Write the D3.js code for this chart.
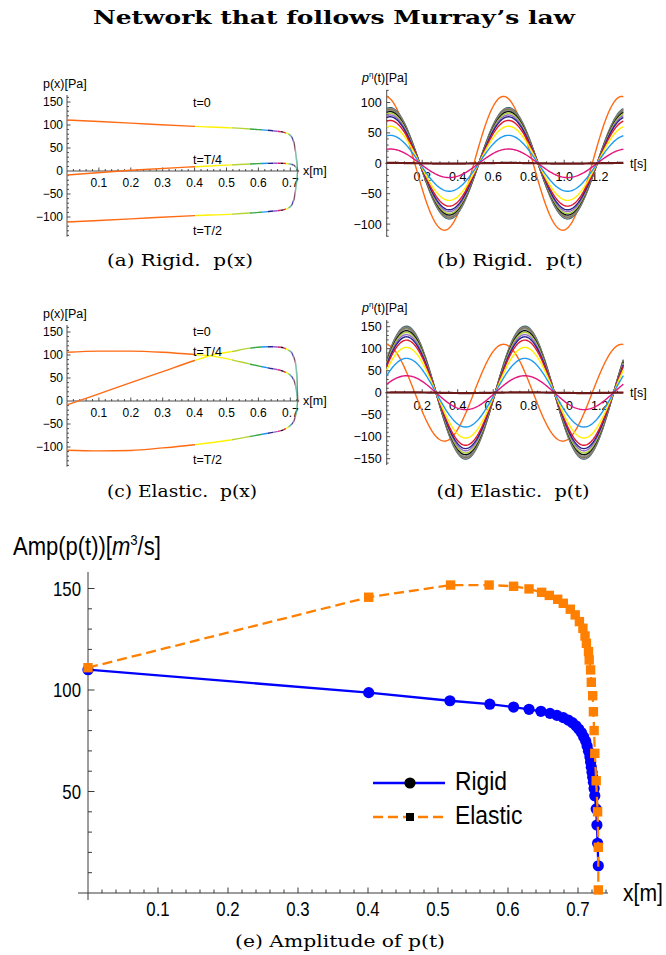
<!DOCTYPE html>
<html><head><meta charset="utf-8">
<script src="https://cdn.jsdelivr.net/npm/d3@7"></script>
<style>
body{margin:0;background:#fff}
svg{display:block;font-family:"Liberation Sans",Arial,sans-serif}
</style></head><body>
<svg id="c" width="666" height="955"></svg>
<script>
// ---------------- DATA ----------------
// (e) amplitude of p(t) along the network (node x positions, amplitudes)
const rigidX   = [0, 0.401, 0.517, 0.574, 0.608, 0.630, 0.647, 0.660, 0.670, 0.679, 0.686, 0.692, 0.697, 0.701, 0.705, 0.708, 0.711, 0.713, 0.715, 0.717, 0.718, 0.719, 0.720, 0.721, 0.722, 0.723, 0.724, 0.726, 0.727, 0.728, 0.729];
const rigidAmp = [110, 98.7, 94.7, 93.0, 91.6, 90.5, 89.5, 88.5, 87.5, 86.4, 85.2, 83.9, 82.4, 80.8, 79.0, 77.0, 74.8, 72.4, 69.8, 67.0, 64.5, 62.0, 59.5, 57.0, 54.5, 51.5, 47.9, 41.4, 33.5, 24.5, 13.4];
const elasticX   = [0, 0.401, 0.518, 0.573, 0.608, 0.630, 0.648, 0.659, 0.671, 0.679, 0.689, 0.696, 0.702, 0.707, 0.710, 0.712, 0.715, 0.716, 0.718, 0.719, 0.721, 0.722, 0.723, 0.724, 0.726, 0.728, 0.729, 0.729];
const elasticAmp = [111, 145.7, 151.7, 151.7, 151.1, 149.8, 148.1, 146.6, 144.7, 142.7, 139.8, 137.0, 133.7, 130.4, 126.6, 123.0, 118.9, 114.8, 109.9, 103.8, 97.2, 89.3, 80.0, 68.8, 55.3, 40.0, 22.5, 1.5];

// (a) rigid p(x) snapshots
const rigidT0X = [0, 0.2, 0.4, 0.52, 0.6, 0.65, 0.68, 0.695, 0.705, 0.712, 0.716, 0.719, 0.721, 0.723];
const rigidT0P = [111, 104, 97, 93.7, 90, 87, 84, 80, 73, 60, 45, 28, 14, 0];
const rigidT4X = [0, 0.2, 0.4, 0.52, 0.6, 0.65, 0.68, 0.7, 0.712, 0.718, 0.721, 0.723];
const rigidT4P = [-8.6, 1.5, 9.3, 13.5, 16, 17, 16.5, 15, 12, 8, 4, 0];
const rigidT2X = [0, 0.2, 0.4, 0.52, 0.6, 0.65, 0.68, 0.695, 0.705, 0.712, 0.716, 0.719, 0.721, 0.723];
const rigidT2P = [-111, -104, -97, -93.7, -90, -87, -84, -80, -73, -60, -45, -28, -14, 0];

// (c) elastic p(x) snapshots
const elasticT0X = [0, 0.1, 0.2, 0.3, 0.4, 0.45, 0.52, 0.575, 0.63, 0.68, 0.7, 0.71, 0.716, 0.719, 0.721, 0.723];
const elasticT0P = [106, 108.5, 108.5, 106, 101, 98, 89, 80, 72, 64, 56, 47, 35, 24, 12, 0];
const elasticT4X = [0, 0.1, 0.2, 0.3, 0.4, 0.45, 0.52, 0.575, 0.63, 0.67, 0.69, 0.705, 0.712, 0.716, 0.719, 0.721, 0.722, 0.723];
const elasticT4P = [-8.6, 15.5, 40, 64, 88, 99, 108, 115, 118, 117, 112, 104, 93, 84, 68, 45, 25, 0];
const elasticT2X = [0, 0.1, 0.2, 0.3, 0.4, 0.5, 0.575, 0.63, 0.68, 0.7, 0.71, 0.716, 0.719, 0.721, 0.723];
const elasticT2P = [-107, -108.5, -107.5, -102, -95, -86, -77, -70, -62, -53, -45, -34, -24, -12, 0];

// (b),(d) p(t) at the nodes: amplitude and phase lag (rad), period T
const period = 2 / 3;
const tMax = 4 / 3;
const ptColors       = ['#ff6a13', '#2f6f6a', '#a77aa8', '#747a2a', '#8a8a8a', '#111111', '#a6cd35', '#9b6cc8', '#24248c', '#e0162b', '#fff000', '#1e9bf0', '#e3157f', '#6b1a1a'];
const ptRigidAmp     = [110, 91.5, 90, 88.5, 87, 85, 82.5, 79.5, 76.5, 70.5, 61, 46, 23.5, 0.6];
const ptRigidPhase   = [-0.08, 0.18, 0.18, 0.18, 0.18, 0.18, 0.18, 0.18, 0.18, 0.18, 0.18, 0.18, 0.18, 0.18];
const ptElasticAmp   = [110, 151, 149, 147, 145, 141, 137, 132, 127, 119.5, 103, 78, 38.5, 0.8];
const ptElasticPhase = [-0.08, 1.05, 1.05, 1.05, 1.05, 1.05, 1.05, 1.05, 1.05, 1.05, 1.05, 1.05, 1.05, 1.05];

// segment colours of the network branches in p(x)
const segPalette = ['#ff6a13', '#fff200', '#b5d334', '#39a845', '#1e96f0', '#26268f', '#9b59c4', '#e3157f', '#111111', '#e01f2d'];

// ticks
const pxXTicks = [0.1, 0.2, 0.3, 0.4, 0.5, 0.6, 0.7];
const pxYTicks = [-100, -50, 0, 50, 100, 150];
const ptXTicks = [0.2, 0.4, 0.6, 0.8, 1.0, 1.2];
const ptRigidYTicks = [-100, -50, 0, 50, 100];
const ptElasticYTicks = [-150, -100, -50, 0, 50, 100, 150];
const ampXTicks = [0.1, 0.2, 0.3, 0.4, 0.5, 0.6, 0.7];
const ampYTicks = [50, 100, 150];

// ---------------- DRAW ----------------
const svg = d3.select('#c');
const defs = svg.append('defs');
const SERIF = '"DejaVu Serif","Liberation Serif",serif';

function txt(g, x, y, s, o = {}) {
  const t = g.append('text').attr('x', x).attr('y', y).text(s)
    .attr('font-size', o.size || 12).attr('text-anchor', o.anchor || 'start').attr('fill', '#000');
  if (o.family) t.style('font-family', o.family);
  if (o.weight) t.style('font-weight', o.weight);
  if (o.pre) t.style('white-space', 'pre');
  if (o.len) t.attr('textLength', o.len).attr('lengthAdjust', 'spacingAndGlyphs');
  if (o.sx) t.attr('transform', `translate(${x},${y}) scale(${o.sx},1) translate(${-x},${-y})`);
  return t;
}

function drawAxes(g, o) {
  const ax = g.append('g').attr('stroke', '#3a3a3a').attr('stroke-width', o.sw || 0.9);
  const y0 = o.y(0), x0 = o.x(0);
  ax.append('line').attr('x1', o.xLine[0]).attr('x2', o.xLine[1]).attr('y1', y0).attr('y2', y0);
  ax.append('line').attr('x1', x0).attr('x2', x0).attr('y1', o.yLine[0]).attr('y2', o.yLine[1]);
  const tick = (v, len, isX) => {
    if (isX) ax.append('line').attr('x1', o.x(v)).attr('x2', o.x(v)).attr('y1', y0).attr('y2', y0 - len);
    else ax.append('line').attr('x1', x0).attr('x2', x0 + len).attr('y1', o.y(v)).attr('y2', o.y(v));
  };
  o.xMajor.forEach(v => tick(v, o.xMaj, true));
  o.xMinor.forEach(v => tick(v, o.xMin, true));
  o.yMajor.forEach(v => { if (v !== 0) tick(v, o.yMaj, false); });
  o.yMinor.forEach(v => tick(v, o.yMin, false));
  o.xMajor.forEach(v => txt(g, o.x(v), y0 + o.xLabDy, o.xFmt(v), { size: o.fs, anchor: 'middle', sx: o.sx }));
  o.yMajor.forEach(v => txt(g, x0 + o.yLabDx, o.y(v) + o.fs * 0.36, o.yFmt(v), { size: o.fs, anchor: 'end', sx: o.sx }));
}
const f1 = d3.format('.1f'), fd = d3.format('d');

// ---------- p(x) panels ----------
function pxPanel(id, yZero, curves) {
  const g = svg.append('g');
  const x = d3.scaleLinear().domain([0, 0.7]).range([67, 290.3]);
  const y = d3.scaleLinear().domain([0, 150]).range([yZero, yZero - 69]);
  drawAxes(g, {
    x, y, xLine: [x(0), x(0.728)], yLine: [yZero - 76, yZero + 65.7],
    xMajor: pxXTicks, xMinor: d3.range(1, 37).filter(i => i % 5).map(i => i * 0.02),
    yMajor: pxYTicks, yMinor: d3.range(-14, 17).filter(i => i % 5).map(i => i * 10),
    xMaj: 3.5, xMin: 2, yMaj: 3.5, yMin: 2, fs: 12, xLabDy: 16, yLabDx: -4, sx: 1,
    xFmt: f1, yFmt: fd
  });
  const line = d3.line().x(d => x(d[0])).y(d => y(d[1])).curve(d3.curveMonotoneX);
  const bounds = rigidX.slice();
  for (let i = 0; i < bounds.length; i++) {
    const a = i === 0 ? -0.05 : bounds[i];
    const b = i === bounds.length - 1 ? 0.8 : bounds[i + 1];
    const cid = `${id}clip${i}`;
    defs.append('clipPath').attr('id', cid).append('rect')
      .attr('x', x(a)).attr('width', Math.max(0, x(b) - x(a)))
      .attr('y', yZero - 120).attr('height', 240);
    const col = i === 0 ? segPalette[0] : segPalette[1 + (i - 1) % (segPalette.length - 1)];
    const cg = g.append('g').attr('clip-path', `url(#${cid})`);
    curves.forEach(c => {
      cg.append('path').attr('d', line(c[0].map((v, k) => [v, c[1][k]])))
        .attr('fill', 'none').attr('stroke', col).attr('stroke-width', 1.4);
    });
  }
  return { g, x, y };
}

const pa = pxPanel('a', 171, [[rigidT0X, rigidT0P], [rigidT4X, rigidT4P], [rigidT2X, rigidT2P]]);
const pc = pxPanel('c', 401, [[elasticT0X, elasticT0P], [elasticT4X, elasticT4P], [elasticT2X, elasticT2P]]);

// labels for p(x)
[[pa, 171], [pc, 401]].forEach(([p, z]) => {
  txt(p.g, 43, z - 83, 'p(x)[Pa]', { size: 12.5 });
  txt(p.g, 303, z + 4, 'x[m]', { size: 12.5 });
});
txt(pa.g, 193, 107, 't=0', { size: 12.5 });
txt(pa.g, 193, 163.5, 't=T/4', { size: 12.5 });
txt(pa.g, 193, 235, 't=T/2', { size: 12.5 });
txt(pc.g, 193, 336, 't=0', { size: 12.5 });
txt(pc.g, 193, 356, 't=T/4', { size: 12.5 });
txt(pc.g, 193, 463.5, 't=T/2', { size: 12.5 });

// ---------- p(t) panels ----------
function ptPanel(yZero, per50, amps, phases, yTicks, yMinorRange, yTop, yBot) {
  const g = svg.append('g');
  const x = d3.scaleLinear().domain([0, 1.2]).range([386.7, 599.7]);
  const y = d3.scaleLinear().domain([0, 50]).range([yZero, yZero - per50]);
  drawAxes(g, {
    x, y, xLine: [x(0) - 1.5, x(tMax)], yLine: [yTop, yBot],
    xMajor: ptXTicks, xMinor: d3.range(1, 27).filter(i => i % 4).map(i => i * 0.05),
    yMajor: yTicks, yMinor: d3.range(yMinorRange[0], yMinorRange[1] + 1).filter(i => i % 5).map(i => i * 10),
    xMaj: 3.5, xMin: 2, yMaj: 3.5, yMin: 2, fs: 12.5, xLabDy: 17.5, yLabDx: -5, sx: 1,
    xFmt: f1, yFmt: fd
  });
  const omega = 2 * Math.PI / period;
  const ts = d3.range(0, 301).map(i => i / 300 * tMax);
  const line = d3.line().x(d => x(d[0])).y(d => y(d[1]));
  amps.forEach((A, k) => {
    g.append('path').attr('d', line(ts.map(t => [t, A * Math.cos(omega * t - phases[k])])))
      .attr('fill', 'none').attr('stroke', ptColors[k]).attr('stroke-width', k === amps.length - 1 ? 2.2 : 1.4);
  });
  txt(g, 630, yZero + 4.5, 't[s]', { size: 12.5 });
  const lab = g.append('text').attr('x', 362).attr('y', yZero - 81).attr('font-size', 12.5);
  lab.append('tspan').attr('font-style', 'italic').text('p');
  lab.append('tspan').attr('font-size', 8).attr('dy', -5).text('η');
  lab.append('tspan').attr('dy', 5).text('(t)[Pa]');
  return g;
}
ptPanel(163.3, 30.4, ptRigidAmp, ptRigidPhase, ptRigidYTicks, [-12, 12], 90, 236.7);
ptPanel(392.7, 22, ptElasticAmp, ptElasticPhase, ptElasticYTicks, [-16, 16], 320, 465);

// ---------- captions ----------
txt(svg, 180, 265.5, '(a) Rigid.  p(x)', { size: 17.5, anchor: 'middle', family: SERIF, pre: true, len: 146 });
txt(svg, 510, 265.5, '(b) Rigid.  p(t)', { size: 17.5, anchor: 'middle', family: SERIF, pre: true, len: 146 });
txt(svg, 182, 497, '(c) Elastic.  p(x)', { size: 17.5, anchor: 'middle', family: SERIF, pre: true, len: 150 });
txt(svg, 513, 497, '(d) Elastic.  p(t)', { size: 17.5, anchor: 'middle', family: SERIF, pre: true, len: 153 });
txt(svg, 340, 946.5, '(e) Amplitude of p(t)', { size: 17.5, anchor: 'middle', family: SERIF, len: 210 });
txt(svg, 334, 24, 'Network that follows Murray’s law', { size: 18.5, anchor: 'middle', family: '"DejaVu Serif",serif', weight: 'bold', len: 482 });

// ---------- (e) amplitude panel ----------
{
  const g = svg.append('g');
  const x = d3.scaleLinear().domain([0, 0.7]).range([88, 578]);
  const y = d3.scaleLinear().domain([0, 150]).range([893, 588.5]);
  drawAxes(g, {
    x, y, xLine: [78, 608], yLine: [572, 900],
    xMajor: ampXTicks, xMinor: d3.range(1, 38).filter(i => i % 5).map(i => i * 0.02),
    yMajor: ampYTicks, yMinor: d3.range(1, 16).filter(i => i % 5).map(i => i * 10),
    xMaj: 5.5, xMin: 3.5, yMaj: 6.5, yMin: 4, fs: 20, xLabDy: 23, yLabDx: -7, sx: 0.84,
    xFmt: f1, yFmt: fd, sw: 1
  });
  const line = d3.line().x(d => x(d[0])).y(d => y(d[1]));
  const rData = rigidX.map((v, i) => [v, rigidAmp[i]]);
  const eData = elasticX.map((v, i) => [v, elasticAmp[i]]);
  g.append('path').attr('d', line(rData)).attr('fill', 'none').attr('stroke', '#0000ff').attr('stroke-width', 2.3);
  g.selectAll('circle.r').data(rData).enter().append('circle')
    .attr('cx', d => x(d[0])).attr('cy', d => y(d[1])).attr('r', 5.6).attr('fill', '#0000ff');
  g.append('path').attr('d', line(eData)).attr('fill', 'none').attr('stroke', '#ff8000')
    .attr('stroke-width', 2.3).attr('stroke-dasharray', '10,5');
  g.selectAll('rect.e').data(eData).enter().append('rect')
    .attr('x', d => x(d[0]) - 4.7).attr('y', d => y(d[1]) - 4.7).attr('width', 9.4).attr('height', 9.4).attr('fill', '#ff8000');

  // legend
  g.append('line').attr('x1', 373).attr('x2', 445).attr('y1', 783).attr('y2', 783).attr('stroke', '#0000ff').attr('stroke-width', 2.3);
  g.append('circle').attr('cx', 410).attr('cy', 783).attr('r', 5.6).attr('fill', '#000');
  g.append('line').attr('x1', 373).attr('x2', 445).attr('y1', 817).attr('y2', 817).attr('stroke', '#ff8000')
    .attr('stroke-width', 2.3).attr('stroke-dasharray', '10,5');
  g.append('rect').attr('x', 406).attr('y', 813).attr('width', 8).attr('height', 8).attr('fill', '#000');
  txt(g, 455, 790.5, 'Rigid', { size: 26, sx: 0.88 });
  txt(g, 455, 824, 'Elastic', { size: 26, sx: 0.88 });
  txt(g, 623, 901, 'x[m]', { size: 24, sx: 0.88 });
  const lab = g.append('text').attr('x', 13).attr('y', 555).attr('font-size', 25)
    .attr('transform', 'translate(13,555) scale(0.88,1) translate(-13,-555)');
  lab.append('tspan').text('Amp(p(t))[');
  lab.append('tspan').attr('font-style', 'italic').text('m');
  lab.append('tspan').attr('font-size', 15).attr('dy', -10).text('3');
  lab.append('tspan').attr('dy', 10).text('/s]');
}
</script></body></html>
